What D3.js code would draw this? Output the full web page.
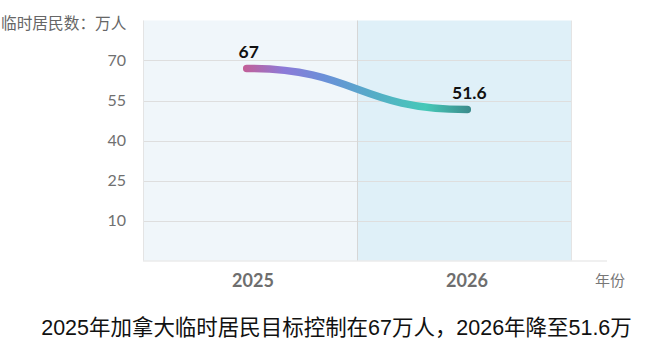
<!DOCTYPE html>
<html>
<head>
<meta charset="utf-8">
<script src="https://cdn.jsdelivr.net/npm/d3@7/dist/d3.min.js"></script>
<style>
  html, body { margin: 0; padding: 0; background: #ffffff; }
  svg { display: block; }
</style>
</head>
<body>
<svg id="chart" width="660" height="351"></svg>
<script>
// ---- data ----
const years = ["2025", "2026"];
const values = [67, 51.6];
const valueLabels = ["67", "51.6"];
const yTicks = [10, 25, 40, 55, 70];
const yAxisTitle = "临时居民数：万人";
const xAxisTitle = "年份";
const caption = "2025年加拿大临时居民目标控制在67万人，2026年降至51.6万";

// ---- layout ----
const svg = d3.select("#chart");
const plotLeft = 143, plotRight = 571, plotTop = 20.5, plotBottom = 260.5;
const axisEnd = 607;

const xBand = d3.scaleBand().domain(years).range([plotLeft, plotRight]).paddingInner(0).paddingOuter(0);
const x = d3.scalePoint().domain(years).range([plotLeft, plotRight]).padding(0.47);
const y = d3.scaleLinear().domain([-5, 85]).range([plotBottom, plotTop]);

const cjk = "'Noto Sans CJK SC', 'Noto Sans', sans-serif";
const num = "'Lato', 'Noto Sans CJK SC', sans-serif";

// background bands
const bandColors = ["#f0f6fa", "#dff0f8"];
svg.append("g").selectAll("rect").data(years).join("rect")
  .attr("x", d => xBand(d))
  .attr("y", plotTop)
  .attr("width", xBand.bandwidth())
  .attr("height", plotBottom - plotTop)
  .attr("fill", (d, i) => bandColors[i]);

// horizontal gridlines
svg.append("g").selectAll("line").data(yTicks).join("line")
  .attr("x1", plotLeft).attr("x2", plotRight)
  .attr("y1", d => Math.round(y(d)) + 0.5).attr("y2", d => Math.round(y(d)) + 0.5)
  .attr("stroke", "#dedede").attr("stroke-width", 1);

// vertical band borders
svg.append("g").selectAll("line").data([plotLeft, xBand(years[1]), plotRight]).join("line")
  .attr("x1", d => Math.round(d) + 0.5).attr("x2", d => Math.round(d) + 0.5)
  .attr("y1", plotTop).attr("y2", plotBottom)
  .attr("stroke", (d, i) => i === 1 ? "#d6d6d6" : "#e4e4e4")
  .attr("stroke-width", 1);

// bottom axis line
svg.append("line")
  .attr("x1", plotLeft).attr("x2", axisEnd)
  .attr("y1", Math.round(plotBottom)).attr("y2", Math.round(plotBottom))
  .attr("stroke", "#e2e2e2").attr("stroke-width", 1.2);

// y tick labels
svg.append("g").selectAll("text").data(yTicks).join("text")
  .attr("x", 126)
  .attr("y", d => y(d))
  .attr("dy", "0.36em")
  .attr("text-anchor", "end")
  .attr("font-family", num)
  .attr("font-size", 16)
  .attr("fill", "#707070")
  .text(d => d);

// y axis title
svg.append("text")
  .attr("x", 1).attr("y", 28.5)
  .attr("font-family", cjk)
  .attr("font-size", 15.7)
  .attr("fill", "#666666")
  .text(yAxisTitle);

// x tick labels
svg.append("g").selectAll("text").data(years).join("text")
  .attr("x", d => xBand(d) + xBand.bandwidth() / 2 + 3)
  .attr("y", 287)
  .attr("text-anchor", "middle")
  .attr("font-family", num)
  .attr("font-weight", "bold")
  .attr("font-size", 18)
  .attr("fill", "#6e6e6e")
  .text(d => d);

// x axis title
svg.append("text")
  .attr("x", 595).attr("y", 286)
  .attr("font-family", cjk)
  .attr("font-size", 15)
  .attr("fill", "#777777")
  .text(xAxisTitle);

// gradient line
const defs = svg.append("defs");
const grad = defs.append("linearGradient")
  .attr("id", "lineGrad")
  .attr("gradientUnits", "userSpaceOnUse")
  .attr("x1", x(years[0]) - 4).attr("x2", x(years[1]) + 4)
  .attr("y1", 0).attr("y2", 0);
const stops = [
  [0, "#c45e96"], [0.18, "#8c7ad8"], [0.36, "#6a90d8"],
  [0.56, "#55abc8"], [0.8, "#47c9b8"], [1, "#3a8a8b"]
];
grad.selectAll("stop").data(stops).join("stop")
  .attr("offset", d => d[0]).attr("stop-color", d => d[1]);

const pts = years.map((yr, i) => [x(yr), y(values[i])]);
const line = d3.line().curve(d3.curveBumpX);
svg.append("path")
  .attr("d", line(pts))
  .attr("fill", "none")
  .attr("stroke", "url(#lineGrad)")
  .attr("stroke-width", 7.5)
  .attr("stroke-linecap", "round");

// value labels
svg.append("g").selectAll("text").data(years).join("text")
  .attr("x", d => x(d) + 2)
  .attr("y", (d, i) => y(values[i]) - 11)
  .attr("text-anchor", "middle")
  .attr("font-family", num)
  .attr("font-weight", "bold")
  .attr("font-size", 17.5)
  .attr("fill", "#111111")
  .text((d, i) => valueLabels[i]);

// caption
const cap = svg.append("text")
  .attr("x", 336.5).attr("y", 334.5)
  .attr("text-anchor", "middle")
  .attr("font-family", "'Liberation Sans', 'Noto Sans CJK SC', sans-serif")
  .attr("font-size", 21)
  .attr("fill", "#111111")
  .text(caption);
const w = cap.node().getComputedTextLength();
if (w > 0) cap.attr("font-size", 21 * 591 / w);
</script>
</body>
</html>
